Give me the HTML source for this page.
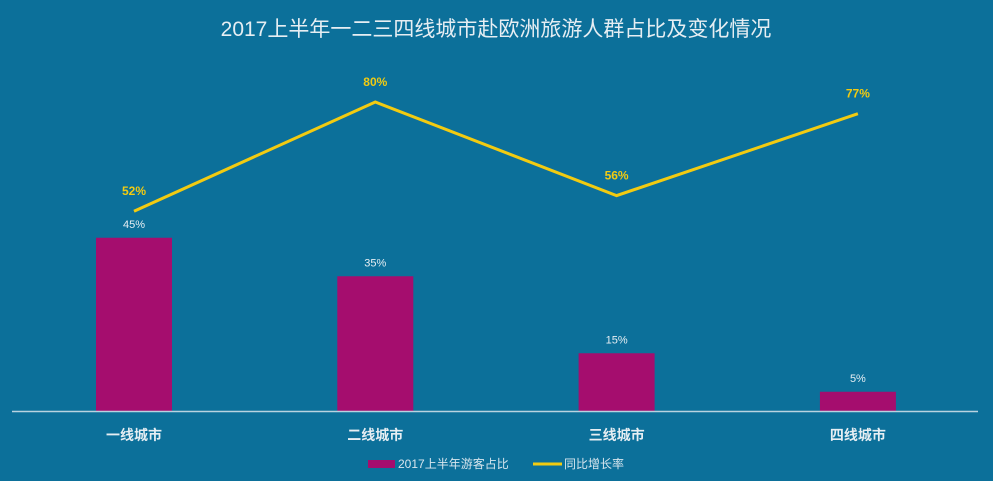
<!DOCTYPE html>
<html><head><meta charset="utf-8"><style>
body{margin:0;background:#fff}
svg{display:block;font-family:"Liberation Sans","Noto Sans CJK SC",sans-serif}
</style></head><body>
<svg width="993" height="481">
<rect x="0" y="0" width="993" height="481" fill="#0c709a"/>
<text x="496" y="36" text-anchor="middle" font-size="21" fill="#e6eef3">2017上半年一二三四线城市赴欧洲旅游人群占比及变化情况</text>
<g id="plot"></g>
<line x1="12" y1="411.5" x2="978" y2="411.5" stroke="#b9d3e0" stroke-width="1.5"/>
<g>
<rect x="368" y="460" width="27" height="8" fill="#a50d6e"/>
<text x="398" y="468" font-size="12" fill="#d8e6ee">2017上半年游客占比</text>
<line x1="533" y1="464" x2="562" y2="464" stroke="#f2cb11" stroke-width="3"/>
<text x="564" y="468" font-size="12" fill="#d8e6ee">同比增长率</text>
</g>
</svg>
<script>
const categories=["一线城市","二线城市","三线城市","四线城市"];
const shareValues=[45,35,15,5];
const growthValues=[52,80,56,77];
const shareLabels=["45%","35%","15%","5%"];
const growthLabels=["52%","80%","56%","77%"];
const NS="http://www.w3.org/2000/svg";
const g=document.getElementById("plot");
const x=i=>134+i*241.3;
const yBar=v=>411-v*3.85;
const yLine=v=>414-v*3.9;
function mk(t,a){const e=document.createElementNS(NS,t);for(const k in a)e.setAttribute(k,a[k]);g.appendChild(e);return e;}
categories.forEach((c,i)=>{
  const b=mk("rect",{x:x(i)-38,y:yBar(shareValues[i]),width:76,height:411-yBar(shareValues[i]),fill:"#a50d6e"});
  
  
  const t=mk("text",{x:x(i),y:yBar(shareValues[i])-10,"text-anchor":"middle","font-size":"11",fill:"#e6eef3"});
  t.textContent=shareLabels[i];
  
  
  const cl=mk("text",{x:x(i),y:440,"text-anchor":"middle","font-size":"14","font-weight":"bold",fill:"#e6eef3"});
  cl.textContent=c;
  
  
});
const pl=mk("polyline",{points:growthValues.map((v,i)=>x(i)+","+yLine(v)).join(" "),fill:"none",stroke:"#f2cb11","stroke-width":"3"});


growthValues.forEach((v,i)=>{
  const t=mk("text",{x:x(i),y:yLine(v)-16,"text-anchor":"middle","font-size":"12","font-weight":"bold",fill:"#f2cb11"});
  t.textContent=growthLabels[i];
  
  
});
</script>
</body></html>
